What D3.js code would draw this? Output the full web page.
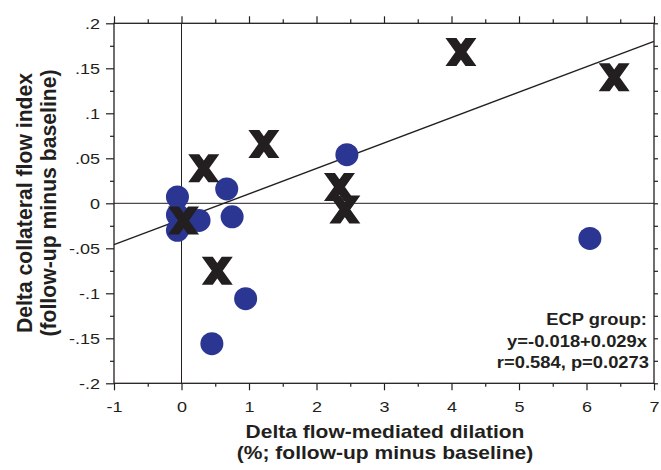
<!DOCTYPE html>
<html><head><meta charset="utf-8">
<script src="https://cdn.jsdelivr.net/npm/d3@7"></script>
<style>body{margin:0;background:#fff}</style>
</head><body><svg id="c" width="661" height="470"></svg>
<script>
// ---- data ----
const xTicks = [-1, 0, 1, 2, 3, 4, 5, 6, 7];
const xTickLabels = ["-1", "0", "1", "2", "3", "4", "5", "6", "7"];
const yTicks = [0.2, 0.15, 0.1, 0.05, 0, -0.05, -0.1, -0.15, -0.2];
const yTickLabels = [".2", ".15", ".1", ".05", "0", "-.05", "-.1", "-.15", "-.2"];

// blue circles
const circleX = [-0.06, -0.06, -0.06, 0.26, 0.67, 0.75, 2.45, 0.95, 0.45, 6.05];
const circleY = [0.007, -0.013, -0.030, -0.019, 0.016, -0.015, 0.054, -0.106, -0.156, -0.039];
// black crosses
const crossX = [0.33, 1.22, 2.34, 2.42, 0.53, 4.14, 6.41, 0.03];
const crossY = [0.039, 0.066, 0.018, -0.007, -0.075, 0.168, 0.140, -0.019];
// regression line (ECP group)
const fitX = [-1, 7];
const fitY = [-0.046, 0.180];

const xTitle = ["Delta flow-mediated dilation", "(%; follow-up minus baseline)"];
const yTitle = ["Delta collateral flow index", "(follow-up minus baseline)"];
const note = ["ECP group:", "y=-0.018+0.029x", "r=0.584, p=0.0273"];

// ---- drawing ----
const INK = "#231f20";
const FONT = "'Liberation Sans', Arial, Helvetica, sans-serif";
const svg = d3.select("#c");
const x = d3.scaleLinear().domain([-1, 7]).range([114, 654]);
const y = d3.scaleLinear().domain([-0.2, 0.2]).range([383.3, 23.3]);

const xMinor = d3.range(-0.5, 7, 1);
const yMinor = d3.range(-0.175, 0.2, 0.05);

// zero reference lines
svg.append("line").attr("x1", x(0)).attr("x2", x(0)).attr("y1", y(-0.2)).attr("y2", y(0.2))
  .attr("stroke", INK).attr("stroke-width", 1);
svg.append("line").attr("x1", x(-1)).attr("x2", x(7)).attr("y1", y(0)).attr("y2", y(0))
  .attr("stroke", INK).attr("stroke-width", 1);

// regression line
svg.append("path")
  .datum(fitX.map((v, i) => [v, fitY[i]]))
  .attr("d", d3.line().x(d => x(d[0])).y(d => y(d[1])))
  .attr("fill", "none").attr("stroke", INK).attr("stroke-width", 1.3);

// axes ticks
function styleAxis(g) {
  g.select(".domain").remove();
  g.selectAll(".tick line").attr("stroke", INK).attr("stroke-width", 1.2);
}
const bottomMaj = svg.append("g").attr("transform", `translate(0,${y(-0.2)})`)
  .call(d3.axisBottom(x).tickValues(xTicks).tickSize(7)
    .tickFormat(d => xTickLabels[xTicks.indexOf(d)]));
styleAxis(bottomMaj);
bottomMaj.selectAll(".tick text")
  .attr("y", 29.2).attr("dy", 0)
  .attr("transform", "scale(1.2,1)")
  .attr("fill", INK).attr("font-family", FONT).attr("font-size", 15);
styleAxis(svg.append("g").attr("transform", `translate(0,${y(-0.2)})`)
  .call(d3.axisBottom(x).tickValues(xMinor).tickSize(3.5).tickFormat("")));

styleAxis(svg.append("g").attr("transform", `translate(0,${y(0.2)})`)
  .call(d3.axisTop(x).tickValues(xTicks).tickSize(7).tickFormat("")));
styleAxis(svg.append("g").attr("transform", `translate(0,${y(0.2)})`)
  .call(d3.axisTop(x).tickValues(xMinor).tickSize(4).tickFormat("")));

const leftMaj = svg.append("g").attr("transform", `translate(${x(-1)},0)`)
  .call(d3.axisLeft(y).tickValues(yTicks).tickSize(8)
    .tickFormat(d => yTickLabels[yTicks.indexOf(d)]));
styleAxis(leftMaj);
leftMaj.selectAll(".tick text")
  .attr("x", 0).attr("dy", 0).attr("y", 5.2)
  .attr("transform", "translate(-14,0) scale(1.2,1)")
  .attr("text-anchor", "end")
  .attr("fill", INK).attr("font-family", FONT).attr("font-size", 15);
styleAxis(svg.append("g").attr("transform", `translate(${x(-1)},0)`)
  .call(d3.axisLeft(y).tickValues(yMinor).tickSize(4).tickFormat("")));

styleAxis(svg.append("g").attr("transform", `translate(${x(7)},0)`)
  .call(d3.axisRight(y).tickValues(yTicks.concat(yMinor)).tickSize(4).tickFormat("")));

// frame
svg.append("rect").attr("x", x(-1)).attr("y", y(0.2))
  .attr("width", x(7) - x(-1)).attr("height", y(-0.2) - y(0.2))
  .attr("fill", "none").attr("stroke", INK).attr("stroke-width", 1.3);

// circles
svg.append("g").selectAll("circle")
  .data(circleX.map((v, i) => [v, circleY[i]]))
  .join("circle")
  .attr("cx", d => x(d[0])).attr("cy", d => y(d[1]))
  .attr("r", 11.5).attr("fill", "#2b3592");

// crosses (bold X glyph shape)
const a = 10, h = 14, w = 11;
const crossPath =
  `M${-a - w / 2},${-h}L${-a + w / 2},${-h}L${a + w / 2},${h}L${a - w / 2},${h}Z` +
  `M${a - w / 2},${-h}L${a + w / 2},${-h}L${-a + w / 2},${h}L${-a - w / 2},${h}Z`;
svg.append("g").selectAll("path")
  .data(crossX.map((v, i) => [v, crossY[i]]))
  .join("path")
  .attr("d", crossPath)
  .attr("transform", d => `translate(${x(d[0])},${y(d[1])})`)
  .attr("fill", INK);

// axis titles
xTitle.forEach((t, i) => {
  svg.append("text").text(t)
    .attr("transform", `translate(385,${[438.3, 459][i]}) scale(1.13,1)`)
    .attr("text-anchor", "middle").attr("font-family", FONT)
    .attr("font-weight", "bold").attr("font-size", 18.6).attr("fill", INK);
});
yTitle.forEach((t, i) => {
  svg.append("text").text(t)
    .attr("transform", `translate(${[31.5, 55.5][i]},203) rotate(-90)`)
    .attr("text-anchor", "middle").attr("font-family", FONT)
    .attr("font-weight", "bold").attr("font-size", 21.2).attr("fill", INK);
});

// annotation
note.forEach((t, i) => {
  svg.append("text").text(t)
    .attr("transform", `translate(${[647, 647, 649][i]},${[325, 346.7, 368.3][i]}) scale(1.12,1)`)
    .attr("text-anchor", "end").attr("font-family", FONT)
    .attr("font-weight", "bold").attr("font-size", 16.4).attr("fill", INK);
});
</script></body></html>
